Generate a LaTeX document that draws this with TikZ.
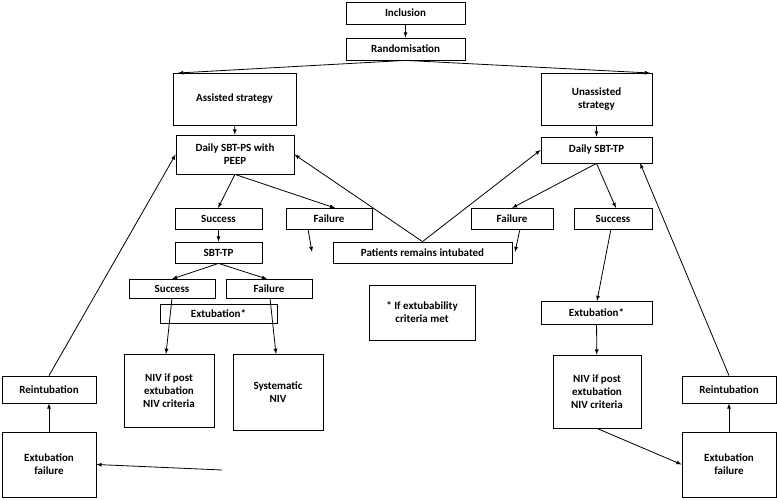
\documentclass[tikz,border=0pt]{standalone}
\usepackage{fontspec}
\setmainfont{Carlito}
\begin{document}
\begin{tikzpicture}[x=1pt,y=-1pt,
 box/.style={draw,thick,inner sep=1pt,align=center,font=\bfseries\fontsize{11}{13}\selectfont},
 ar/.style={thick,-latex}]
\useasboundingbox (0,0) rectangle (777,500);
\newcommand\bx[6]{\node[box,minimum width=#4-#2,minimum height=#5-#3] (#1) at ({(#2+#4)/2},{(#3+#5)/2}) {#6};}
\bx{inc}{346}{2}{465}{24}{Inclusion}
\bx{ran}{346}{38}{465}{60}{Randomisation}
\bx{as}{173}{73}{296}{125}{Assisted strategy}
\bx{un}{541}{73}{652}{125}{Unassisted\\strategy}
\bx{dps}{176}{135}{294}{174}{Daily SBT-PS with\\PEEP}
\bx{dtp}{541}{137}{652}{163}{Daily SBT-TP}
\bx{s1}{175}{208}{262}{229}{Success}
\bx{f1}{286}{208}{372}{229}{Failure}
\bx{sbt}{175}{242}{262}{263}{SBT-TP}
\bx{pri}{333}{242}{512}{263}{Patients remains intubated}
\bx{f2}{471}{208}{553}{229}{Failure}
\bx{s2}{574}{208}{652}{229}{Success}
\bx{s3}{129}{279}{215}{298}{Success}
\bx{f3}{226}{279}{312}{298}{Failure}
\bx{exl}{160}{304}{277}{323}{Extubation*}
\bx{note}{369}{285}{475}{340}{* If extubability\\criteria met}
\bx{exr}{541}{301}{652}{324}{Extubation*}
\bx{nivl}{124}{354}{214}{427}{NIV if post\\extubation\\NIV criteria}
\bx{sys}{233}{354}{323}{430}{Systematic\\NIV}
\bx{nivr}{553}{355}{641}{428}{NIV if post\\extubation\\NIV criteria}
\bx{rl}{2}{376}{96}{403}{Reintubation}
\bx{efl}{2}{432}{96}{497}{Extubation\\failure}
\bx{rr}{682}{376}{776}{403}{Reintubation}
\bx{efr}{682}{432}{776}{497}{Extubation\\failure}
\coordinate (sysend) at (222,470);
\draw[ar] (inc) -- (ran);
\draw[ar] (ran.south) -- (178,73);
\draw[ar] (ran.south) -- (650,73);
\draw[ar] (as) -- (dps);
\draw[ar] (un) -- (dtp);
\draw[ar] (dps.south) -- (218,208);
\draw[ar] (dps.south) -- (335,208);
\draw[ar] (dtp.south) -- (512,208);
\draw[ar] (dtp.south) -- (616,208);
\draw[ar] (s1) -- (sbt);
\draw[ar] (308,229) -- (312,252);
\draw[ar] (520,229) -- (515,252);
\draw[ar] (pri.north) -- (dps.east);
\draw[ar] (pri.north) -- (dtp.west);
\draw[ar] (sbt.south) -- (172,279);
\draw[ar] (sbt.south) -- (267,279);
\draw[ar] (172,298) -- (166,354);
\draw[ar] (270,298) -- (276,354);
\draw[ar] (s2) -- (597,301);
\draw[ar] (exr) -- (nivr);
\draw[ar] (nivr.south) -- (efr.west);
\draw[ar] (efr) -- (rr);
\draw[ar] (rr.north) -- (640,163);
\draw[ar] (sysend) -- (efl.east);
\draw[ar] (efl) -- (rl);
\draw[ar] (rl.north) -- (dps.west);
\end{tikzpicture}
\end{document}
